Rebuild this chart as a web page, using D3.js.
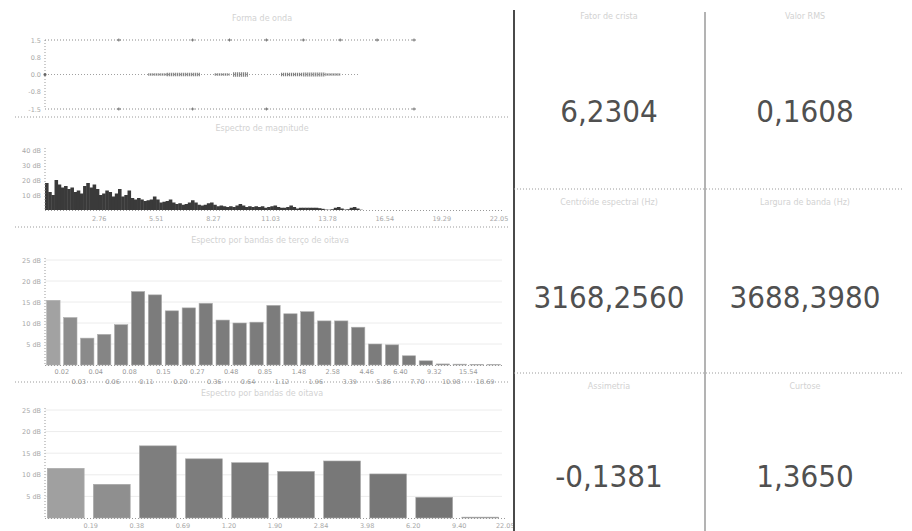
<!DOCTYPE html>
<html>
<head>
<meta charset="utf-8">
<script src="https://cdn.jsdelivr.net/npm/d3@7"></script>
<style>
  html, body { margin: 0; padding: 0; background: #fff; }
  svg { display: block; font-family: "DejaVu Sans", Verdana, sans-serif; }
</style>
</head>
<body>
<svg id="chart" width="912" height="531"></svg>
<script>
// ---- waveform panel ----
const waveTickValues = [1.5, 0.75, 0, -0.75, -1.5];
const waveTickLabels = ["1.5", "0.8", "0.0", "-0.8", "-1.5"];
const clipTopMarks = [0.2, 0.4, 0.5, 0.6, 0.7, 0.8, 0.9, 1.0];
const clipBottomMarks = [0.2, 0.4, 0.6, 1.0];
const signalEnd = 0.85;
// bursts of activity on the signal: [start, end, amplitude]
const signalBursts = [
  [0.28, 0.33, 0.03], [0.33, 0.42, 0.05], [0.46, 0.50, 0.03],
  [0.51, 0.55, 0.08], [0.64, 0.70, 0.05], [0.70, 0.76, 0.07], [0.76, 0.80, 0.03]
];

// ---- magnitude spectrum (dB per bin, 0..22.05 kHz) ----
const nyquist = 22.05;
const binCount = 144;
const spectrumDb = [
  18, 12, 10, 20, 17, 15, 16, 14, 15, 12, 13, 11, 16, 18, 15, 17, 14, 10, 11, 13,
  12, 9, 11, 14, 9, 10, 13, 8, 7, 8, 7, 6, 6.5, 7, 9, 7, 5, 5.5, 6, 7,
  5, 4, 4.5, 3.5, 4, 5, 6.5, 5, 3.5, 3, 3.5, 4.5, 5, 3.5, 2.5, 3, 2.5, 2, 2.5, 2,
  3, 4, 3, 2, 2.5, 2, 2.5, 2, 2.5, 1.5, 2, 2.5, 3, 2, 1.5, 1.5, 2, 3, 2, 1,
  1.5, 1.5, 1.5, 1.5, 1.5, 1.5, 1.2, 0.8, 0.3, 0.2, 0.5, 1.5, 2, 1, 0.3, 0.5, 1.5, 2, 1, 0.2
];
const spectrumTicks = [2.76, 5.51, 8.27, 11.03, 13.78, 16.54, 19.29, 22.05];
const spectrumDbTicks = [10, 20, 30, 40];

// ---- third-octave style bands ----
const bandLevels = [
  15.4, 11.3, 6.4, 7.3, 9.6, 17.5, 16.7, 12.9, 13.6, 14.7, 10.7, 10.0, 10.2, 14.2,
  12.2, 12.7, 10.5, 10.5, 9.0, 5.0, 4.8, 2.2, 1.0, 0.25, 0.2, 0.15, 0.1
];
const bandEdges = [
  "0.02", "0.03", "0.04", "0.06", "0.08", "0.11", "0.15", "0.20", "0.27", "0.36",
  "0.48", "0.64", "0.85", "1.12", "1.48", "1.96", "2.58", "3.39", "4.46", "5.86",
  "6.40", "7.70", "9.32", "10.98", "15.54", "18.69"
];

// ---- octave bands ----
const octaveLevels = [11.5, 7.8, 16.7, 13.7, 12.8, 10.8, 13.2, 10.2, 4.8, 0.2];
const octaveEdges = ["0.19", "0.38", "0.69", "1.20", "1.90", "2.84", "3.98", "6.20", "9.40", "22.05"];
const levelTicks = [5, 10, 15, 20, 25];

// ---- summary statistics ----
const statNames = ["Fator de crista", "Valor RMS", "Centróide espectral (Hz)", "Largura de banda (Hz)", "Assimetria", "Curtose"];
const statValues = [6.2304, 0.1608, 3168.2560, 3688.3980, -0.1381, 1.3650];

const panelTitles = ["Forma de onda", "Espectro de magnitude", "Espectro por bandas de terço de oitava", "Espectro por bandas de oitava"];

const svg = d3.select("#chart");
const faint = "#d2d2d2";
const tickColor = "#a8a8a8";
const dotted = "1,2";

function hline(x1, x2, y, color, dash, w) {
  svg.append("line").attr("x1", x1).attr("x2", x2).attr("y1", y).attr("y2", y)
    .attr("stroke", color).attr("stroke-width", w || 1).attr("stroke-dasharray", dash || null);
}
function vline(x, y1, y2, color, dash, w) {
  svg.append("line").attr("x1", x).attr("x2", x).attr("y1", y1).attr("y2", y2)
    .attr("stroke", color).attr("stroke-width", w || 1).attr("stroke-dasharray", dash || null);
}
function title(text, x, y) {
  svg.append("text").attr("x", x).attr("y", y).attr("text-anchor", "middle")
    .attr("font-size", 8).attr("fill", faint).text(text);
}
function yTicks(scale, values, labels, x) {
  svg.append("g").selectAll("text").data(values).join("text")
    .attr("x", x).attr("y", d => scale(d) + 2.5).attr("text-anchor", "end")
    .attr("font-size", 6.5).attr("fill", tickColor)
    .text((d, i) => labels[i]);
}
function grid(scale, values, x1, x2) {
  svg.append("g").selectAll("line").data(values).join("line")
    .attr("x1", x1).attr("x2", x2).attr("y1", d => scale(d)).attr("y2", d => scale(d))
    .attr("stroke", "#ececec").attr("stroke-width", 1);
}

// separators between the left panels
hline(15, 510, 117, "#9a9a9a", dotted);
hline(15, 510, 227, "#9a9a9a", dotted);
hline(15, 510, 382, "#9a9a9a", dotted);

// ===== Panel 1: waveform =====
title(panelTitles[0], 262, 21);
const tx = d3.scaleLinear().domain([0, 1]).range([45, 414]);
const wy = d3.scaleLinear().domain([-1.5, 1.5]).range([109, 40]);
yTicks(wy, waveTickValues, waveTickLabels, 41);
vline(45, 40, 109, "#999", dotted);
hline(tx(0), tx(1), wy(1.5), "#8a8a8a", dotted);
hline(tx(0), tx(1), wy(-1.5), "#8a8a8a", dotted);
hline(tx(0), tx(signalEnd), wy(0), "#a0a0a0", dotted);
svg.append("g").selectAll("line").data(signalBursts).join("line")
  .attr("x1", d => tx(d[0])).attr("x2", d => tx(d[1]))
  .attr("y1", wy(0)).attr("y2", wy(0))
  .attr("stroke", "#6a6a6a").attr("stroke-dasharray", "1,1")
  .attr("stroke-width", d => wy(-d[2]) - wy(d[2]) + 1);
function marks(times, level) {
  svg.append("g").selectAll("path").data(times).join("path")
    .attr("d", d => `M${tx(d) - 2},${wy(level)}h4M${tx(d)},${wy(level) - 1.5}v3`)
    .attr("stroke", "#777").attr("stroke-width", 1);
}
marks(clipTopMarks, 1.5);
marks(clipBottomMarks, -1.5);
svg.append("circle").attr("cx", tx(0)).attr("cy", wy(0)).attr("r", 1.5).attr("fill", "#666");

// ===== Panel 2: magnitude spectrum =====
title(panelTitles[1], 262, 131);
const fx = d3.scaleLinear().domain([0, nyquist]).range([45, 502]);
const sy = d3.scaleLinear().domain([0, 40]).range([210, 150]);
const binW = nyquist / binCount;
yTicks(sy, spectrumDbTicks, spectrumDbTicks.map(d => d + " dB"), 41);
svg.append("g").selectAll("rect").data(spectrumDb).join("rect")
  .attr("x", (d, i) => fx(i * binW))
  .attr("width", fx(binW) - fx(0) + 0.4)
  .attr("y", d => sy(d)).attr("height", d => sy(0) - sy(d))
  .attr("fill", "#3a3a3a");
vline(45, 148, 210, "#999", dotted);
hline(45, 502, 210.5, "#999", dotted);
svg.append("g").selectAll("text").data(spectrumTicks).join("text")
  .attr("x", d => fx(d) - 3).attr("y", 221).attr("text-anchor", "middle")
  .attr("font-size", 6.5).attr("fill", tickColor)
  .text(d => d.toFixed(2));

// ===== Panel 3: band levels =====
title(panelTitles[2], 270, 243);
const bx = d3.scaleBand().domain(d3.range(bandLevels.length)).range([45, 502]).paddingInner(0.21).paddingOuter(0.1);
const by = d3.scaleLinear().domain([0, 25]).range([365, 260]);
grid(by, levelTicks, 45, 502);
yTicks(by, levelTicks, levelTicks.map(d => d + " dB"), 41);
const bandShade = d3.scaleLinear().domain([0, 1, 5]).range(["#a2a2a2", "#8e8e8e", "#7c7c7c"]).clamp(true);
svg.append("g").selectAll("rect").data(bandLevels).join("rect")
  .attr("x", (d, i) => bx(i)).attr("width", bx.bandwidth())
  .attr("y", d => by(d)).attr("height", d => by(0) - by(d))
  .attr("fill", (d, i) => bandShade(i)).attr("stroke", "#b0b0b0").attr("stroke-width", 0.6);
vline(45, 258, 365, "#999", dotted);
hline(45, 502, 365.5, "#999", dotted);
const edgeX = i => bx(i) + bx.bandwidth() + bx.step() * bx.paddingInner() / 2;
svg.append("g").selectAll("text").data(bandEdges).join("text")
  .attr("x", (d, i) => edgeX(i)).attr("y", (d, i) => i % 2 === 0 ? 374 : 384)
  .attr("text-anchor", "middle").attr("font-size", 6.5).attr("fill", "#9a9a9a")
  .text(d => d);

// ===== Panel 4: octave levels =====
title(panelTitles[3], 262, 396);
const ox = d3.scaleBand().domain(d3.range(octaveLevels.length)).range([45, 501]).paddingInner(0.2).paddingOuter(0.05);
const oy = d3.scaleLinear().domain([0, 25]).range([518, 410]);
grid(oy, levelTicks, 45, 502);
yTicks(oy, levelTicks, levelTicks.map(d => d + " dB"), 41);
const octShade = d3.scaleLinear().domain([0, 2, 9]).range(["#a0a0a0", "#7e7e7e", "#747474"]);
svg.append("g").selectAll("rect").data(octaveLevels).join("rect")
  .attr("x", (d, i) => ox(i)).attr("width", ox.bandwidth())
  .attr("y", d => oy(d)).attr("height", d => oy(0) - oy(d))
  .attr("fill", (d, i) => octShade(i)).attr("stroke", "#ababab").attr("stroke-width", 0.6);
vline(45, 408, 518, "#999", dotted);
hline(45, 505, 518.5, "#999", dotted);
svg.append("g").selectAll("text").data(octaveEdges).join("text")
  .attr("x", (d, i) => ox(i) + ox.bandwidth() + ox.step() * 0.1 + 2).attr("y", 528)
  .attr("text-anchor", "middle").attr("font-size", 6.5).attr("fill", tickColor)
  .text(d => d);

// ===== Statistics grid =====
const colCenters = [609, 805];
const rowTitleY = [19, 205, 389];
const rowValueY = [122, 308, 487];
vline(514, 10, 531, "#4a4a4a", null, 2);
vline(705, 12, 531, "#8a8a8a", null, 1.3);
hline(514, 903, 189, "#9a9a9a", dotted);
hline(514, 903, 373, "#9a9a9a", dotted);

const ptBR = d3.formatLocale({ decimal: ",", thousands: ".", grouping: [3], currency: ["R$", ""], minus: "-" });
const fmt = ptBR.format(".4f");

svg.append("g").selectAll("text").data(statNames).join("text")
  .attr("x", (d, i) => colCenters[i % 2]).attr("y", (d, i) => rowTitleY[Math.floor(i / 2)])
  .attr("text-anchor", "middle").attr("font-size", 8).attr("fill", faint)
  .text(d => d);

svg.append("g").selectAll("text").data(statValues).join("text")
  .attr("x", (d, i) => colCenters[i % 2]).attr("y", (d, i) => rowValueY[Math.floor(i / 2)])
  .attr("text-anchor", "middle")
  .attr("font-family", "'DejaVu Sans Condensed', 'DejaVu Sans', Verdana, sans-serif")
  .attr("font-stretch", "condensed")
  .attr("font-size", 31).attr("fill", "#505050")
  .text(d => fmt(d));
</script>
</body>
</html>
